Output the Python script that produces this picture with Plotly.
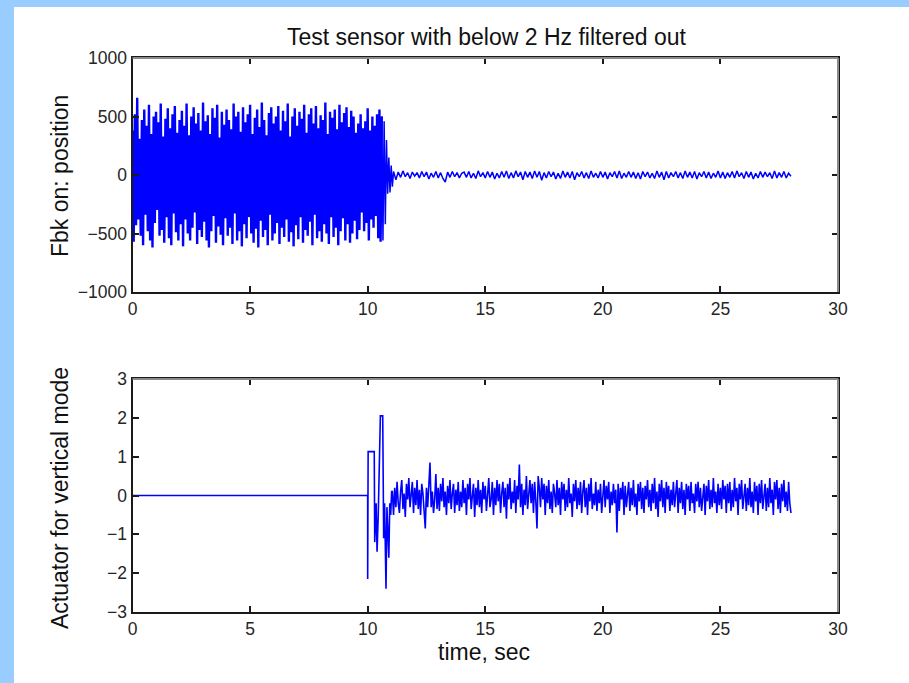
import numpy as np
import plotly.graph_objects as go

# ---------------- data ----------------
title_text = "Test sensor with below 2 Hz filtered out"
ylabel_top = "Fbk on: position"
ylabel_bot = "Actuator for vertical mode"
xlabel = "time, sec"

x_ticks = [0, 5, 10, 15, 20, 25, 30]
x_ticktext = ["0", "5", "10", "15", "20", "25", "30"]
ytop_ticks = [-1000, -500, 0, 500, 1000]
ytop_ticktext = ["\u22121000", "\u2212500", "0", "500", "1000"]
ybot_ticks = [-3, -2, -1, 0, 1, 2, 3]
ybot_ticktext = ["\u22123", "\u22122", "\u22121", "0", "1", "2", "3"]

# Top panel: large oscillation, sampled every 0.05 s from t = 0
top_big_t0 = 0.0
top_big_dt = 0.05
top_big = [
    380, -570, 520, -430, 660, -380, 310, -520, 470, -600, 560, -340, 420, -480, 600, -560, 350, -620, 500, -410,
    540, -300, 450, -520, 610, -470, 330, -580, 480, -360, 570, -540, 400, -600, 520, -330, 590, -490, 360, -560,
    470, -420, 550, -610, 420, -380, 610, -500, 340, -560, 500, -450, 580, -320, 440, -590, 530, -470, 380, -530,
    620, -400, 460, -560, 510, -620, 350, -480, 570, -350, 490, -580, 600, -440, 320, -510, 540, -600, 430, -370,
    560, -520, 470, -450, 390, -590, 610, -330, 500, -560, 540, -480, 370, -610, 580, -420, 450, -540, 520, -360,
    600, -500, 350, -580, 490, -460, 560, -620, 410, -390, 620, -530, 470, -470, 340, -600, 530, -340, 580, -560,
    440, -500, 500, -410, 590, -590, 380, -450, 550, -530, 460, -380, 610, -570, 330, -490, 500, -610, 570, -430,
    420, -550, 540, -360, 480, -580, 600, -470, 360, -520, 520, -400, 570, -600, 440, -340, 590, -540, 400, -480,
    510, -570, 470, -420, 620, -500, 350, -590, 540, -360, 490, -530, 560, -450, 390, -600, 600, -480, 450, -370,
    530, -560, 580, -420, 410, -580, 550, -500, 500, -390, 360, -550, 440, -470, 520, -320, 400, -480, 460, -410,
    570, -560, 380, -380, 500, -450, 420, -350, 520, -540, 560, -570,
]
# Top panel: decay after the filter switches on
top_decay_t = [10.6, 10.65, 10.7, 10.75, 10.8, 10.85, 10.9, 10.95, 11.0, 11.05]
top_decay = [500, -560, 460, -420, 300, -160, 150, -150, 80, -100]
# Top panel: small residual oscillation, every 0.1 s from t = 11.1
top_small_t0 = 11.1
top_small_dt = 0.1
top_small = [
    30, -40, 25, -20, 35, -15, 20, -30, 25, -10,
    20, -25, 30, -15, 25, -35, 15, -20, 30, -25,
    20, -30, -60, 25, -20, 30, -15, 20, -25, 15,
    25, -20, 30, -25, 15, -30, 35, -15, 20, -25,
    30, -20, 25, -35, 15, -25, 30, -20, 35, -30,
    20, -25, 35, -15, 25, -40, 30, -20, 25, -30,
    35, -20, 30, -45, 20, -25, 30, -15, 25, -35,
    15, -30, 35, -20, 25, -25, 30, -40, 20, -15,
    30, -25, 20, -30, 35, -20, 15, -25, 30, -20,
    25, -35, 20, -15, 30, -25, 35, -30, 15, -20,
    30, -20, 25, -30, 20, -35, 30, -15, 25, -25,
    15, -30, 35, -20, 25, -40, 30, -25, 20, -15,
    30, -25, 20, -30, 35, -20, 25, -25, 30, -35,
    20, -15, 30, -25, 25, -30, 15, -20, 35, -25,
    25, -30, 20, -20, 30, -25, 35, -15, 20, -30,
    30, -20, 25, -35, 15, -25, 30, -20, 25, -15,
    20, -30, 35, -25, 20, -20, 30, -25, 15, -10,
]

# Bottom panel: flat, then transient
bot_trans_t = [0.0, 10.0, 10.0, 10.02, 10.28, 10.30, 10.36, 10.40, 10.45, 10.54, 10.64,
               10.68, 10.72, 10.78, 10.82, 10.86, 10.90, 10.94, 10.98, 11.02]
bot_trans = [0.0, 0.0, -2.15, 1.13, 1.13, -1.2, -0.2, -1.45, -0.5, 2.05, 2.05,
             -1.1, -0.2, -2.4, -0.3, -1.0, -1.6, -0.2, -0.5, 0.1]
# Bottom panel: noisy actuator signal, every 0.05 s from t = 11.05
bot_noise_t0 = 11.05
bot_noise_dt = 0.05
bot_noise = [
    0.1, -0.5, 0.2, -0.3, 0.35, -0.2, -0.45, 0.1, 0.4, -0.35, 0.05, -0.55, 0.3, -0.1, 0.45, -0.3, -0.05, 0.35, -0.45, 0.2,
    -0.25, 0.4, -0.35, 0.15, -0.5, 0.3, 0.05, -0.4, -0.85, 0.2, -0.3, 0.25, 0.85, -0.3, 0.1, -0.45, -0.1, 0.55, -0.35, 0.2,
    -0.4, 0.3, -0.15, 0.45, -0.3, 0.1, -0.5, 0.25, -0.2, 0.4, -0.35, 0.05, 0.3, -0.45, 0.15, -0.25, 0.35, -0.4, 0.1, -0.3,
    0.4, -0.2, 0.2, -0.5, 0.3, -0.1, 0.45, -0.35, 0.0, 0.3, -0.55, 0.2, -0.25, 0.4, -0.3, 0.15, -0.45, 0.35, -0.1, 0.25,
    -0.4, 0.1, 0.45, -0.3, -0.1, 0.35, -0.5, 0.2, -0.25, 0.4, -0.15, 0.3, -0.45, 0.05, 0.35, -0.3, 0.2, -0.6, 0.3, -0.1,
    0.45, -0.35, 0.1, -0.2, 0.4, -0.45, 0.25, -0.1, 0.8, -0.3, 0.3, -0.5, 0.15, -0.25, 0.5, -0.35, 0.0, 0.4, -0.2, 0.3,
    -0.45, 0.35, -0.15, -0.85, 0.5, 0.2, -0.3, 0.45, -0.1, 0.3, -0.5, 0.25, -0.2, 0.4, -0.35, 0.1, -0.45, 0.3, 0.05, -0.3,
    0.4, -0.25, 0.2, -0.5, 0.35, -0.1, 0.3, -0.4, 0.15, -0.3, 0.45, -0.2, 0.05, -0.55, 0.3, -0.15, 0.4, -0.35, 0.2, -0.25,
    0.35, -0.45, 0.1, 0.4, -0.3, 0.2, -0.5, 0.3, -0.15, 0.45, -0.35, 0.05, -0.25, 0.35, -0.4, 0.15, -0.2, 0.3, -0.45, 0.1,
    0.4, -0.3, 0.25, -0.1, 0.35, -0.45, 0.1, -0.25, 0.3, -0.2, 0.15, -0.95, 0.3, -0.4, 0.2, -0.1, 0.35, -0.5, 0.25, -0.3,
    0.1, 0.35, -0.4, 0.2, -0.25, 0.4, -0.3, 0.05, -0.5, 0.3, -0.15, 0.35, -0.35, 0.2, -0.45, 0.25, -0.1, 0.4, -0.3, 0.15,
    -0.4, 0.3, -0.2, 0.45, -0.35, 0.1, -0.55, 0.3, -0.15, 0.4, -0.3, 0.2, -0.45, 0.35, -0.1, 0.25, -0.4, 0.15, -0.25, 0.35,
    -0.3, 0.1, 0.4, -0.45, 0.2, -0.2, 0.35, -0.35, 0.15, -0.5, 0.3, -0.1, 0.25, -0.4, 0.35, -0.2, 0.05, -0.45, 0.3, -0.15,
    0.35, -0.3, 0.2, -0.4, 0.1, 0.3, -0.5, 0.25, -0.15, 0.4, -0.35, 0.15, -0.3, 0.45, -0.2, 0.1, -0.45, 0.3, -0.25, 0.2,
    -0.35, 0.4, -0.1, 0.25, -0.45, 0.3, -0.2, 0.35, -0.4, 0.15, -0.3, 0.45, -0.15, 0.2, -0.5, 0.3, -0.1, 0.4, -0.35, 0.1,
    0.3, -0.4, 0.2, -0.25, 0.45, -0.3, 0.1, -0.45, 0.35, -0.15, 0.25, -0.5, 0.3, -0.2, 0.4, -0.35, 0.05, 0.3, -0.4, 0.2,
    -0.3, 0.45, -0.2, 0.15, -0.5, 0.35, -0.1, 0.4, -0.35, 0.2, -0.45, 0.3, -0.15, 0.4, -0.3, 0.1, -0.4, 0.35, -0.2, -0.45,
]

# ---------------- assemble series ----------------
t_big = top_big_t0 + top_big_dt * np.arange(len(top_big))
t_small = top_small_t0 + top_small_dt * np.arange(len(top_small))
top_big_t_all = np.concatenate([t_big, top_decay_t[:1]])
top_big_y_all = np.concatenate([top_big, top_decay[:1]])
top_rest_t = np.concatenate([top_decay_t, t_small])
top_rest_y = np.concatenate([top_decay, top_small])

t_noise = bot_noise_t0 + bot_noise_dt * np.arange(len(bot_noise))
bot_t = np.concatenate([bot_trans_t, t_noise])
bot_y = np.concatenate([bot_trans, bot_noise])

W, H = 909, 683
FONT = "Liberation Sans, Arial, Helvetica, sans-serif"
TICK_FONT = dict(family=FONT, size=17.5, color="#262626")
LAB_FONT = dict(family=FONT, size=23, color="#111111")
LINE_BLUE = "#0000ff"
AX_DARK = "#1a1a1a"
AX_GREY = "#8a8a8a"

x0p, x1p = 132.5 / W, 838 / W
top_dom = [1 - 292 / H, 1 - 58 / H]
bot_dom = [1 - 612 / H, 1 - 379 / H]

fig = go.Figure()
fig.add_trace(go.Scatter(x=top_big_t_all, y=top_big_y_all, mode="lines", xaxis="x", yaxis="y",
                         line=dict(color=LINE_BLUE, width=2.4), showlegend=False, hoverinfo="skip"))
fig.add_trace(go.Scatter(x=top_rest_t, y=top_rest_y, mode="lines", xaxis="x", yaxis="y",
                         line=dict(color=LINE_BLUE, width=1.5), showlegend=False, hoverinfo="skip"))
fig.add_trace(go.Scatter(x=bot_t, y=bot_y, mode="lines", xaxis="x2", yaxis="y2",
                         line=dict(color=LINE_BLUE, width=1.6), showlegend=False, hoverinfo="skip"))

axis_common = dict(showline=True, linecolor=AX_DARK, linewidth=2, mirror="ticks",
                   ticks="inside", ticklen=6, tickwidth=2, tickcolor=AX_DARK,
                   showgrid=False, zeroline=False, tickfont=TICK_FONT, automargin=False)

fig.update_layout(
    width=W, height=H,
    margin=dict(l=0, r=0, t=0, b=0, pad=0, autoexpand=False),
    paper_bgcolor="#99ccff",
    plot_bgcolor="white",
    xaxis=dict(domain=[x0p, x1p], range=[0, 30], tickvals=x_ticks, ticktext=x_ticktext,
               anchor="y", **axis_common),
    yaxis=dict(domain=top_dom, range=[-1000, 1000], tickvals=ytop_ticks, ticktext=ytop_ticktext,
               anchor="x", **axis_common),
    xaxis2=dict(domain=[x0p, x1p], range=[0, 30], tickvals=x_ticks, ticktext=x_ticktext,
                anchor="y2", **axis_common),
    yaxis2=dict(domain=bot_dom, range=[-3, 3], tickvals=ybot_ticks, ticktext=ybot_ticktext,
                anchor="x2", **axis_common),
    shapes=[
        dict(type="rect", xref="paper", yref="paper", x0=14 / W, x1=1.0, y0=0, y1=1 - 7 / H,
             fillcolor="white", line=dict(width=0), layer="below"),
        # grey top / right frame edges (as in the original)
        dict(type="line", xref="x domain", yref="y domain", x0=0, x1=1, y0=1, y1=1,
             line=dict(color=AX_GREY, width=2)),
        dict(type="line", xref="x domain", yref="y domain", x0=1, x1=1, y0=0, y1=1,
             line=dict(color=AX_GREY, width=2)),
        dict(type="line", xref="x2 domain", yref="y2 domain", x0=0, x1=1, y0=1, y1=1,
             line=dict(color=AX_GREY, width=2)),
        dict(type="line", xref="x2 domain", yref="y2 domain", x0=1, x1=1, y0=0, y1=1,
             line=dict(color=AX_GREY, width=2)),
    ],
    annotations=[
        dict(text=title_text, xref="paper", yref="paper", x=486 / W, y=1 - 37 / H,
             xanchor="center", yanchor="middle", showarrow=False, font=LAB_FONT),
        dict(text=ylabel_top, xref="paper", yref="paper", x=60 / W, y=1 - 176 / H,
             xanchor="center", yanchor="middle", showarrow=False, textangle=-90, font=LAB_FONT),
        dict(text=ylabel_bot, xref="paper", yref="paper", x=60 / W, y=1 - 498 / H,
             xanchor="center", yanchor="middle", showarrow=False, textangle=-90, font=LAB_FONT),
        dict(text=xlabel, xref="paper", yref="paper", x=484 / W, y=1 - 652 / H,
             xanchor="center", yanchor="middle", showarrow=False, font=LAB_FONT),
    ],
)

# remove the browser's default page margin so the 909x683 figure fills the window exactly
fig.write_html(
    "out.html",
    config={"displayModeBar": False},
    post_script="document.body.style.margin='0';document.body.style.overflow='hidden';",
)
